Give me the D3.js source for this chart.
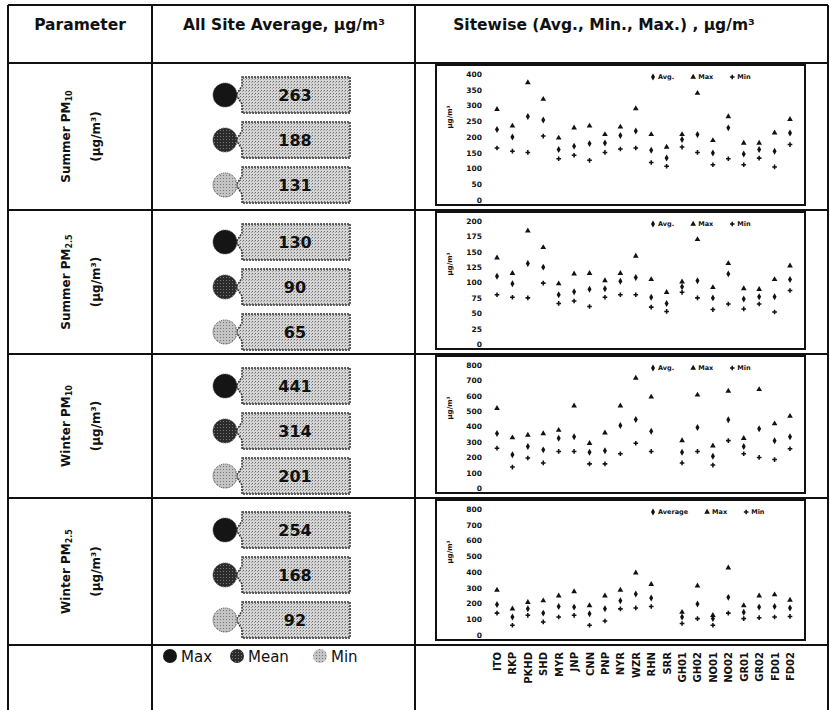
<!DOCTYPE html>
<html>
<head>
<meta charset="utf-8">
<script src="https://cdn.jsdelivr.net/npm/d3@7"></script>
<style>
  body { margin: 0; background: #fff; }
  text { font-family: "DejaVu Sans", sans-serif; fill: #111; }
</style>
</head>
<body>
<div id="chart"></div>
<script>
// site codes along the x axis
var sites = ["ITO","RKP","PKHD","SHD","MYR","JNP","CNN","PNP","NYR","WZR",
             "RHN","SRR","GH01","GH02","NO01","NO02","GR01","GR02","FD01","FD02"];

// all site average badges
var avgMax  = [263, 130, 441, 254];
var avgMean = [188, 90, 314, 168];
var avgMin  = [131, 65, 201, 92];

// sitewise values
var sumPM10Max = [288,235,373,320,197,229,235,208,232,290,208,168,208,339,189,265,181,181,213,256];
var sumPM10Avg = [224,200,265,254,160,171,179,181,205,219,158,133,192,208,149,229,146,160,155,213];
var sumPM10Min = [165,155,151,203,131,142,126,151,162,165,119,107,168,151,112,131,112,133,105,176];

var sumPM25Max = [140,115,184,157,98,114,115,103,115,143,105,84,101,170,92,131,90,89,105,127];
var sumPM25Avg = [110,98,131,125,80,85,89,90,102,108,76,66,93,103,75,114,73,77,77,105];
var sumPM25Min = [80,76,75,99,66,70,61,76,80,80,60,53,84,75,56,65,57,65,52,87];

var winPM10Max = [518,327,344,354,376,535,291,359,535,715,592,null,308,605,274,630,323,641,418,467];
var winPM10Avg = [354,216,270,248,323,333,233,242,407,446,369,null,233,393,206,444,270,386,308,333];
var winPM10Min = [259,136,195,163,238,238,157,157,223,291,238,null,163,238,149,308,223,199,185,255];

var winPM25Max = [285,166,208,218,249,276,187,249,285,395,322,null,145,312,125,426,187,249,256,222];
var winPM25Avg = [193,114,166,139,181,177,135,166,218,260,235,null,114,197,104,239,145,177,181,172];
var winPM25Min = [139,62,125,83,114,125,62,89,166,172,181,null,73,104,62,139,104,110,114,118];

var yMaxes = [400, 200, 800, 800];
var ySteps = [50, 25, 100, 100];
var legendNames = [["Avg.","Max","Min"],["Avg.","Max","Min"],["Avg.","Max","Min"],["Average","Max","Min"]];

var rows = [
  {name:"Summer PM", sub:"10",  max:sumPM10Max, avg:sumPM10Avg, min:sumPM10Min},
  {name:"Summer PM", sub:"2.5", max:sumPM25Max, avg:sumPM25Avg, min:sumPM25Min},
  {name:"Winter PM", sub:"10",  max:winPM10Max, avg:winPM10Avg, min:winPM10Min},
  {name:"Winter PM", sub:"2.5", max:winPM25Max, avg:winPM25Avg, min:winPM25Min}
];

var width = 830, height = 710;
var colX = [8, 152, 415, 828];
var rowY = [5, 63, 210, 354, 498, 645];

var svg = d3.select("#chart").append("svg")
  .attr("width", width).attr("height", height);

// stipple patterns for the badges
var defs = svg.append("defs");
var p = defs.append("pattern").attr("id","stip").attr("width",3).attr("height",3)
  .attr("patternUnits","userSpaceOnUse");
p.append("rect").attr("width",3).attr("height",3).attr("fill","#d6d6d6");
p.append("rect").attr("x",0).attr("y",0).attr("width",1).attr("height",1).attr("fill","#6a6a6a");
p.append("rect").attr("x",2).attr("y",1).attr("width",1).attr("height",1).attr("fill","#9a9a9a");
var p2 = defs.append("pattern").attr("id","stipDark").attr("width",3).attr("height",3)
  .attr("patternUnits","userSpaceOnUse");
p2.append("rect").attr("width",3).attr("height",3).attr("fill","#2b2b2b");
p2.append("rect").attr("x",1).attr("y",1).attr("width",1).attr("height",1).attr("fill","#777");
var p3 = defs.append("pattern").attr("id","stipLight").attr("width",3).attr("height",3)
  .attr("patternUnits","userSpaceOnUse");
p3.append("rect").attr("width",3).attr("height",3).attr("fill","#c4c4c4");
p3.append("rect").attr("x",1).attr("y",1).attr("width",1).attr("height",1).attr("fill","#777");

// table grid
svg.selectAll(".hline").data(rowY).enter().append("line").attr("class","hline")
  .attr("x1", colX[0]).attr("x2", colX[3]).attr("y1", d => d).attr("y2", d => d)
  .attr("stroke","#111").attr("stroke-width", 2);
svg.selectAll(".vline").data(colX).enter().append("line").attr("class","vline")
  .attr("x1", d => d).attr("x2", d => d).attr("y1", rowY[0]).attr("y2", height)
  .attr("stroke","#111").attr("stroke-width", 2);

// header
var headers = [
  {x: 80,  t: "Parameter"},
  {x: 284, t: "All Site Average, µg/m³"},
  {x: 604, t: "Sitewise (Avg., Min., Max.) , µg/m³"}
];
svg.selectAll(".hdr").data(headers).enter().append("text").attr("class","hdr")
  .attr("x", d => d.x).attr("y", 30).attr("text-anchor","middle")
  .attr("font-size", 15.5).attr("font-weight","bold").text(d => d.t);

var kinds = ["max","mean","min"];
var badgeVals = [avgMax, avgMean, avgMin];
var circleFill = ["#151515", "url(#stipDark)", "url(#stipLight)"];
var badgeOff = [32, 77, 122];

var x = d3.scalePoint().domain(sites).range([497, 790]);
var sym = {
  avg: d3.symbol().type(d3.symbolDiamond).size(14),
  max: d3.symbol().type(d3.symbolTriangle).size(14),
  min: d3.symbol().type(d3.symbolCross).size(12)
};
var series = ["avg","max","min"];

rows.forEach(function (r, i) {
  var top = rowY[i+1], bot = rowY[i+2], cy = (top + bot) / 2;

  // parameter title, rotated
  var t1 = svg.append("text").attr("transform","translate(70," + cy + ") rotate(-90)")
    .attr("text-anchor","middle").attr("font-size", 12).attr("font-weight","bold");
  t1.append("tspan").text(r.name);
  t1.append("tspan").attr("font-size", 8).attr("dy", 2).text(r.sub);
  svg.append("text").attr("transform","translate(100," + cy + ") rotate(-90)")
    .attr("text-anchor","middle").attr("font-size", 12).attr("font-weight","bold")
    .text("(µg/m³)");

  // badges
  kinds.forEach(function (k, j) {
    var by = top + badgeOff[j], x0 = 236, x1 = 350;
    var tag = d3.path();
    tag.moveTo(x0 + 6, by - 18); tag.lineTo(x1, by - 18); tag.lineTo(x1, by + 18);
    tag.lineTo(x0 + 6, by + 18); tag.lineTo(x0 + 6, by + 9); tag.lineTo(x0, by);
    tag.lineTo(x0 + 6, by - 9); tag.closePath();
    svg.append("path").attr("d", tag.toString()).attr("fill","url(#stip)")
      .attr("stroke","#333").attr("stroke-width",1.5).attr("stroke-dasharray","2,1");
    svg.append("circle").attr("cx", 225).attr("cy", by).attr("r", 12)
      .attr("fill", circleFill[j]).attr("stroke","#444").attr("stroke-dasharray","1,1");
    svg.append("text").attr("x", 295).attr("y", by + 6).attr("text-anchor","middle")
      .attr("font-size", 16).attr("font-weight","bold").attr("fill","#222")
      .text(badgeVals[j][i]);
  });

  // sitewise chart
  var bTop = top + 2, bBot = bot - 5;
  var g = svg.append("g");
  g.append("rect").attr("x", 436).attr("y", bTop).attr("width", 369).attr("height", bBot - bTop)
    .attr("fill","#fff").attr("stroke","#111").attr("stroke-width", 2);

  var y = d3.scaleLinear().domain([0, yMaxes[i]]).range([bBot - 5, bTop + 9]);
  var ax = g.append("g").attr("transform","translate(482,0)")
    .call(d3.axisLeft(y).tickValues(d3.range(0, yMaxes[i] + 1, ySteps[i])).tickSize(0).tickPadding(0));
  ax.select(".domain").remove();
  ax.selectAll("text").attr("font-size", 7.5).attr("font-weight","bold")
    .style("font-family","DejaVu Sans, sans-serif");

  g.append("text").attr("transform","translate(452," + (bTop + 52) + ") rotate(-90)")
    .attr("text-anchor","middle").attr("font-size", 7).attr("font-weight","bold").text("µg/m³");

  series.forEach(function (s) {
    g.selectAll(".pt-" + s).data(r[s].map(function (v, k) { return {site: sites[k], v: v}; })
        .filter(function (d) { return d.v != null; }))
      .enter().append("path").attr("class","pt-" + s)
      .attr("transform", function (d) { return "translate(" + x(d.site) + "," + y(d.v) + ")"; })
      .attr("d", sym[s]()).attr("fill","#111");
  });

  // chart legend
  var lx = 653, ly = bTop + 14;
  legendNames[i].forEach(function (n, j) {
    g.append("path").attr("transform","translate(" + lx + "," + (ly - 2) + ")")
      .attr("d", sym[series[j]]()).attr("fill","#111");
    var lt = g.append("text").attr("x", lx + 5).attr("y", ly).attr("font-size", 6.5)
      .attr("font-weight","bold").text(n);
    lx += lt.node().getComputedTextLength() + 24;
  });
});

// bottom row: badge legend
var legItems = [{x:170, t:"Max"},{x:237, t:"Mean"},{x:320, t:"Min"}];
svg.selectAll(".leg-c").data(legItems).enter().append("circle").attr("class","leg-c")
  .attr("cx", d => d.x).attr("cy", 656).attr("r", 7)
  .attr("fill", (d, j) => circleFill[j]);
svg.selectAll(".leg-t").data(legItems).enter().append("text").attr("class","leg-t")
  .attr("x", d => d.x + 11).attr("y", 662).attr("font-size", 15).text(d => d.t);

// bottom row: site labels
svg.selectAll(".site").data(sites).enter().append("text").attr("class","site")
  .attr("transform", d => "translate(" + (x(d) + 4) + ",652) rotate(-90)")
  .attr("text-anchor","end").attr("font-size", 10).attr("font-weight","bold").text(d => d);
</script>
</body>
</html>
